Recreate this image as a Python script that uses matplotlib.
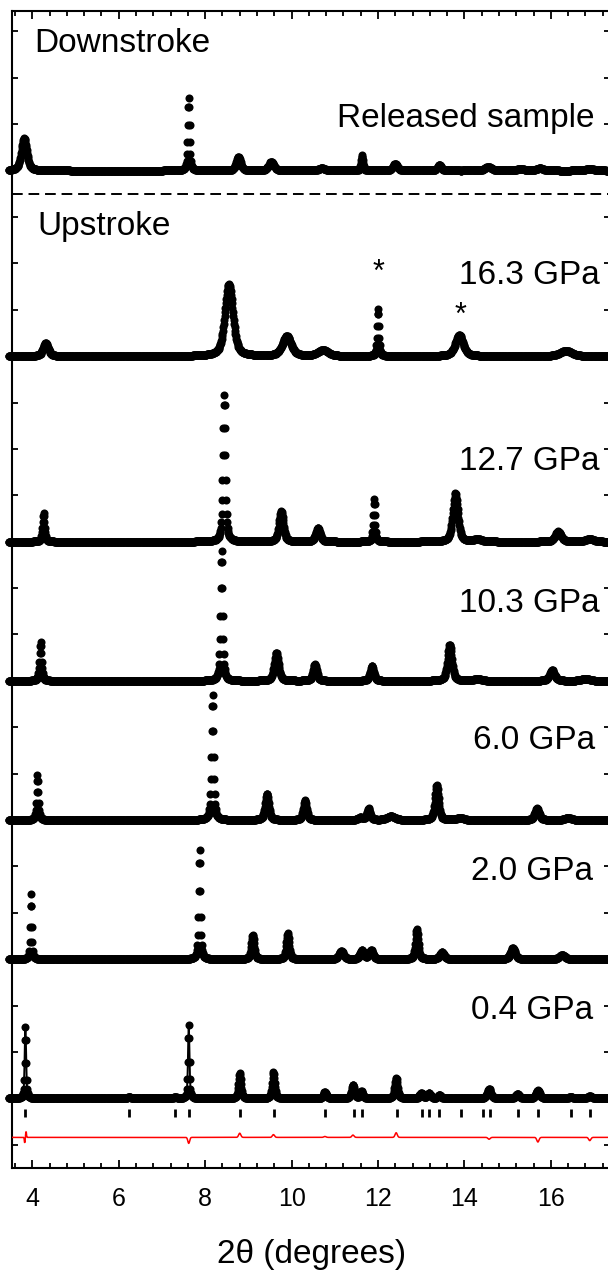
import numpy as np
import matplotlib
matplotlib.use("Agg")
import matplotlib.pyplot as plt
from matplotlib.ticker import MultipleLocator

plt.rcParams['font.family'] = ['Liberation Sans', 'DejaVu Sans']

# 2-theta sampling of the diffractograms (degrees)
two_theta = np.arange(3.45, 17.45, 0.01)

# Peak lists for each pattern: position (deg), height (arb.), FWHM (deg)
released_pos = [3.81, 7.62, 8.77, 9.53, 10.70, 11.63, 12.40, 13.42, 14.55, 15.30, 15.75, 16.90]
released_amp = [0.70, 1.57, 0.29, 0.19, 0.05, 0.33, 0.15, 0.13, 0.08, 0.04, 0.05, 0.04]
released_fwhm = [0.15, 0.05, 0.12, 0.14, 0.18, 0.06, 0.12, 0.10, 0.18, 0.18, 0.18, 0.22]

p163_pos = [4.31, 8.55, 9.89, 10.73, 12.00, 13.88, 16.35]
p163_amp = [0.29, 1.55, 0.43, 0.13, 1.02, 0.45, 0.12]
p163_fwhm = [0.14, 0.22, 0.24, 0.28, 0.05, 0.22, 0.32]

p127_pos = [4.26, 8.44, 9.76, 10.61, 11.91, 13.79, 14.30, 16.17, 16.90]
p127_amp = [0.61, 3.16, 0.65, 0.29, 0.93, 1.04, 0.05, 0.22, 0.06]
p127_fwhm = [0.06, 0.07, 0.12, 0.12, 0.05, 0.14, 0.22, 0.16, 0.22]

p103_pos = [4.19, 8.38, 9.65, 10.54, 11.86, 13.66, 14.30, 16.03, 16.80]
p103_amp = [0.83, 2.80, 0.61, 0.36, 0.32, 0.78, 0.04, 0.23, 0.05]
p103_fwhm = [0.06, 0.06, 0.12, 0.10, 0.10, 0.12, 0.22, 0.14, 0.22]

p60_pos = [4.12, 8.17, 9.43, 10.31, 11.59, 11.78, 12.30, 13.36, 13.90, 15.68, 16.40]
p60_amp = [0.97, 2.70, 0.57, 0.43, 0.05, 0.25, 0.08, 0.75, 0.05, 0.25, 0.05]
p60_fwhm = [0.05, 0.06, 0.10, 0.09, 0.12, 0.09, 0.22, 0.10, 0.18, 0.12, 0.18]

p20_pos = [3.97, 7.87, 9.10, 9.91, 11.15, 11.63, 11.84, 12.90, 13.48, 15.12, 16.26]
p20_amp = [1.40, 2.35, 0.52, 0.56, 0.18, 0.20, 0.20, 0.65, 0.15, 0.25, 0.10]
p20_fwhm = [0.04, 0.05, 0.08, 0.08, 0.12, 0.10, 0.10, 0.08, 0.12, 0.12, 0.14]

p04_pos = [3.84, 6.24, 7.31, 7.62, 8.80, 9.58, 10.77, 11.42, 11.62, 12.42,
           13.00, 13.18, 13.42, 14.57, 15.23, 15.70, 16.46, 16.90]
p04_amp = [1.54, 0.03, 0.03, 1.58, 0.54, 0.57, 0.14, 0.29, 0.15, 0.43,
           0.12, 0.12, 0.08, 0.20, 0.10, 0.17, 0.03, 0.05]
p04_fwhm = [0.04, 0.08, 0.08, 0.04, 0.07, 0.07, 0.08, 0.08, 0.08, 0.08,
            0.08, 0.08, 0.08, 0.10, 0.10, 0.10, 0.10, 0.10]

# Vertical offsets of the stacked patterns
offsets = [21, 17, 13, 10, 7, 4, 1]
labels = ["Released sample", "16.3 GPa", "12.7 GPa", "10.3 GPa", "6.0 GPa", "2.0 GPa", "0.4 GPa"]
label_x = [17.02, 17.12, 17.12, 17.12, 17.02, 16.98, 16.98]
label_y = [21.94, 18.56, 14.54, 11.49, 8.54, 5.70, 2.72]

# Calculated reflection positions (tick marks under the 0.4 GPa refinement)
hkl_pos = [3.836, 6.24, 7.31, 7.62, 8.80, 9.59, 10.77, 11.44, 11.62, 12.43,
           13.01, 13.19, 13.42, 13.91, 14.42, 14.60, 15.24, 15.71, 16.46, 16.91]
hkl_level = 0.69

# Difference curve (observed - calculated) features
diff_level = 0.16
diff_pos = [3.825, 3.855, 7.62, 8.80, 9.58, 10.77, 11.42, 12.42, 14.57, 15.70, 16.90]
diff_amp = [-0.13, 0.14, -0.13, 0.09, 0.06, 0.02, 0.05, 0.10, -0.04, -0.10, -0.07]
diff_width = [0.02, 0.02, 0.05, 0.06, 0.06, 0.06, 0.06, 0.06, 0.06, 0.06, 0.06]

# Asterisks marking extra reflections at 16.3 GPa
star_x = [12.00, 13.90]
star_y = [18.62, 17.69]


def profile(pos, amp, fwhm, eta=0.5):
    x = two_theta[:, None]
    p = np.asarray(pos)[None, :]
    a = np.asarray(amp)[None, :]
    w = np.asarray(fwhm)[None, :]
    dx = (x - p) / (w / 2)
    lor = 1.0 / (1.0 + dx ** 2)
    gau = np.exp(-np.log(2) * dx ** 2)
    return ((eta * lor + (1 - eta) * gau) * a).sum(axis=1)


fig = plt.figure(figsize=(6.08, 12.73), dpi=100)
ax = fig.add_axes([12 / 608, 1 - 1168 / 1273, (610.5 - 12) / 608, (1168 - 11) / 1273])

peak_sets = [
    (released_pos, released_amp, released_fwhm),
    (p163_pos, p163_amp, p163_fwhm),
    (p127_pos, p127_amp, p127_fwhm),
    (p103_pos, p103_amp, p103_fwhm),
    (p60_pos, p60_amp, p60_fwhm),
    (p20_pos, p20_amp, p20_fwhm),
    (p04_pos, p04_amp, p04_fwhm),
]

for (pos, amp, fwhm), off in zip(peak_sets, offsets):
    y = off + profile(pos, amp, fwhm)
    ax.plot(two_theta, y, 'o', ms=5.8, color='black', mew=0, clip_on=False, zorder=3)

# Refinement line through the 0.4 GPa data
calc = offsets[-1] + profile(p04_pos, p04_amp, p04_fwhm)
ax.plot(two_theta, calc, '-', color='black', lw=1.4, zorder=4)

# Reflection ticks
ax.plot(hkl_pos, [hkl_level] * len(hkl_pos), '|', color='black', ms=5.5, mew=2.0)

# Difference curve
diff = np.full_like(two_theta, diff_level)
for p, a, w in zip(diff_pos, diff_amp, diff_width):
    diff += a * np.exp(-np.log(2) * ((two_theta - p) / (w / 2)) ** 2)
ax.plot(two_theta, diff, '-', color='#ff0000', lw=1.1, zorder=3)

# Separator between downstroke and upstroke
ax.axhline(20.5, color='black', lw=1.4, dashes=(5.5, 3.0))

for txt, lx, ly in zip(labels, label_x, label_y):
    ax.text(lx, ly, txt, ha='right', va='baseline', fontsize=24)

ax.text(4.05, 23.56, "Downstroke", ha='left', va='baseline', fontsize=24)
ax.text(4.12, 19.61, "Upstroke", ha='left', va='baseline', fontsize=24)

for sx, sy in zip(star_x, star_y):
    ax.text(sx, sy, "*", ha='center', va='baseline', fontsize=22)

ax.set_xlim(3.53, 17.38)
ax.set_ylim(-0.5, 24.44)
ax.xaxis.set_major_locator(MultipleLocator(2))
ax.xaxis.set_minor_locator(MultipleLocator(0.4))
ax.yaxis.set_major_locator(MultipleLocator(1))
ax.set_yticklabels([])
ax.tick_params(axis='both', which='both', direction='in', top=True, right=True,
               width=1.3, color='black')
ax.tick_params(axis='x', which='major', length=6, labelsize=18, pad=14)
ax.tick_params(axis='x', which='minor', length=3.5)
ax.tick_params(axis='y', which='major', length=4, labelleft=False)
for sp in ax.spines.values():
    sp.set_linewidth(1.5)

ax.set_xlabel("2θ (degrees)", fontsize=24, labelpad=20)

fig.savefig("out.png", dpi=100)
